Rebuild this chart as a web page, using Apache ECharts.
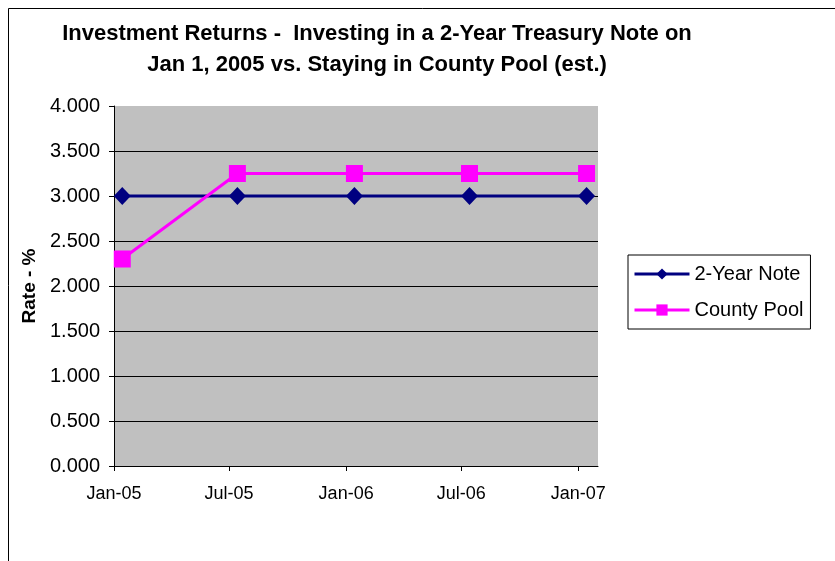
<!DOCTYPE html>
<html>
<head>
<meta charset="utf-8">
<script src="https://cdn.jsdelivr.net/npm/echarts@6/dist/echarts.min.js"></script>
<style>
  html, body { margin: 0; padding: 0; background: #fff; }
  #chart { width: 835px; height: 561px; }
</style>
</head>
<body>
<div id="chart"></div>
<script>
// data
var pointDates = ['2005-01-14', '2005-07-14', '2006-01-14', '2006-07-14', '2007-01-14'];
var noteRates = [3.0, 3.0, 3.0, 3.0, 3.0];
var poolRates = [2.3, 3.25, 3.25, 3.25, 3.25];
var tickDates = ['2005-01-01', '2005-07-01', '2006-01-01', '2006-07-01', '2007-01-01'];
var tickLabels = ['Jan-05', 'Jul-05', 'Jan-06', 'Jul-06', 'Jan-07'];
var axisStart = '2005-01-01';
var axisEnd = '2007-02-01';

var FONT = '"Liberation Sans", Arial, sans-serif';

// days since axisStart (x axis is a plain value axis counted in days)
function toDay(s) {
  var p = s.split('-');
  var q = axisStart.split('-');
  return Math.round((Date.UTC(+p[0], +p[1] - 1, +p[2]) - Date.UTC(+q[0], +q[1] - 1, +q[2])) / 86400000);
}
var tickDays = tickDates.map(toDay);

function pairs(ys) {
  return pointDates.map(function (d, i) { return [toDay(d), ys[i]]; });
}

var myChart = echarts.init(document.getElementById('chart'));
myChart.setOption({
  animation: false,
  backgroundColor: '#fff',
  graphic: [
    {
      type: 'rect', z: -10, silent: true,
      shape: { x: 8.5, y: 8.5, width: 900, height: 700 },
      style: { fill: null, stroke: '#000', lineWidth: 1 }
    },
    {
      type: 'text', silent: true,
      x: 377, y: 18,
      style: {
        text: 'Investment Returns -  Investing in a 2-Year Treasury Note on\nJan 1, 2005 vs. Staying in County Pool (est.)',
        font: 'bold 22px ' + FONT,
        fill: '#000',
        align: 'center',
        lineHeight: 31
      }
    }
  ],
  grid: { left: 114, top: 106, right: 237, bottom: 95, show: true, backgroundColor: '#C0C0C0', borderWidth: 0 },
  legend: {
    orient: 'vertical',
    left: 628, top: 255,
    padding: [9, 7, 9, 5],
    itemGap: 16,
    itemWidth: 55, itemHeight: 14,
    borderColor: '#000', borderWidth: 1,
    lineStyle: { width: 3 },
    textStyle: { fontFamily: FONT, fontSize: 20, color: '#000' },
    data: ['2-Year Note', 'County Pool']
  },
  xAxis: {
    type: 'value',
    min: 0,
    max: toDay(axisEnd),
    axisLine: { lineStyle: { color: '#000', width: 1 } },
    axisTick: { show: true, length: 5, customValues: tickDays, lineStyle: { color: '#000' } },
    axisLabel: {
      customValues: tickDays,
      margin: 19,
      fontFamily: FONT, fontSize: 18, color: '#000',
      formatter: function (v) {
        var i = tickDays.indexOf(v);
        return i >= 0 ? tickLabels[i] : '';
      }
    },
    splitLine: { show: false }
  },
  yAxis: {
    type: 'value',
    min: 0, max: 4, interval: 0.5,
    name: 'Rate - %',
    nameLocation: 'middle',
    nameRotate: 90,
    nameGap: 74,
    nameTextStyle: { fontFamily: FONT, fontSize: 19, fontWeight: 'bold', color: '#000' },
    axisLine: { show: true, lineStyle: { color: '#000', width: 1 } },
    axisTick: { show: true, length: 5, lineStyle: { color: '#000' } },
    axisLabel: {
      margin: 14,
      fontFamily: FONT, fontSize: 20, color: '#000',
      formatter: function (v) { return v.toFixed(3); }
    },
    splitLine: {
      show: true,
      lineStyle: {
        color: ['#000', '#000', '#000', '#000', '#000', '#000', '#000', '#000', '#C0C0C0'],
        width: 1
      }
    }
  },
  series: [
    {
      name: '2-Year Note',
      type: 'line',
      data: pairs(noteRates),
      symbol: 'diamond',
      symbolSize: [17, 18],
      itemStyle: { color: '#000080' },
      lineStyle: { color: '#000080', width: 3 }
    },
    {
      name: 'County Pool',
      type: 'line',
      data: pairs(poolRates),
      symbol: 'rect',
      symbolSize: 17,
      itemStyle: { color: '#FF00FF' },
      lineStyle: { color: '#FF00FF', width: 3 }
    }
  ]
});
</script>
</body>
</html>
